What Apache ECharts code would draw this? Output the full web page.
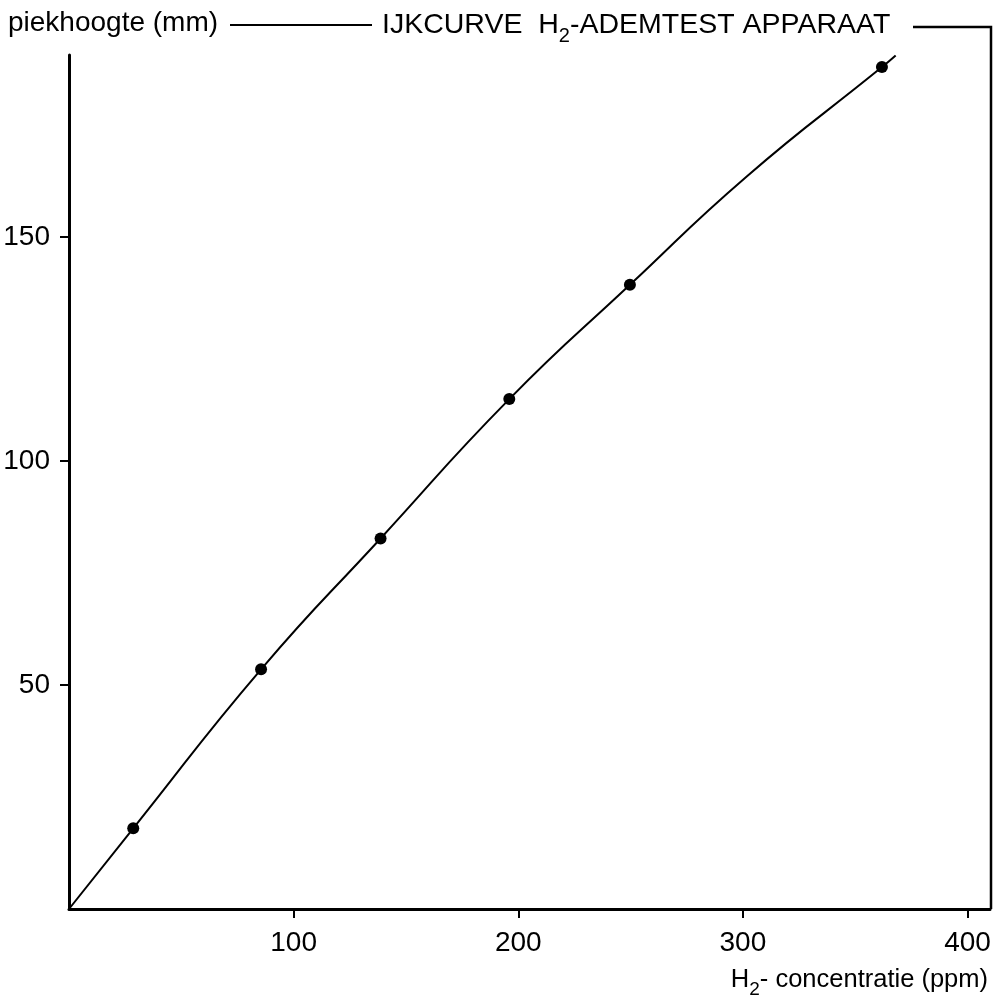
<!DOCTYPE html>
<html>
<head>
<meta charset="utf-8">
<script src="https://cdn.jsdelivr.net/npm/echarts@6/dist/echarts.min.js"></script>
<style>
  html, body { margin: 0; padding: 0; background: #fff; }
  #chart { width: 1003px; height: 1007px; }
</style>
</head>
<body>
<div id="chart"></div>
<script>
// Calibration measurements: H2 concentration (ppm) against peak height (mm)
const concentration = [28.6, 85.5, 138.7, 196.0, 249.7, 361.9];
const peakHeight = [18.0, 53.5, 82.7, 113.8, 139.3, 187.9];
// Calibration curve, starting at the origin and running just past the last point
const curveX = [0, 28.6, 85.5, 138.7, 196.0, 249.7, 301.7, 361.9, 368];
const curveY = [0, 18.0, 53.5, 82.7, 113.8, 139.3, 163.5, 187.9, 190.5];
// Tick positions
const xTicks = [100, 200, 300, 400];
const yTicks = [50, 100, 150];

const FONT = "'Liberation Sans', Arial, Helvetica, sans-serif";
const INK = '#000';

const chart = echarts.init(document.getElementById('chart'), null, { renderer: 'canvas' });

const points = concentration.map((x, i) => [x, peakHeight[i]]);
const curve = curveX.map((x, i) => [x, curveY[i]]);

function subRich(size, subSize, drop) {
  return {
    n: { fontFamily: FONT, fontSize: size, color: INK, padding: [0, 0, 6, 0] },
    s: { fontFamily: FONT, fontSize: subSize, color: INK, padding: [drop, 0, 0, 0] }
  };
}

chart.setOption({
  animation: false,
  backgroundColor: '#fff',
  grid: { left: 69, right: 13, top: 55, bottom: 98 },
  xAxis: {
    type: 'value',
    min: 0, max: 410, interval: 100,
    splitLine: { show: false },
    axisLine: { lineStyle: { color: INK, width: 3 } },
    axisTick: { show: true, length: 9, lineStyle: { color: INK, width: 2 }, customValues: xTicks },
    axisLabel: { fontFamily: FONT, fontSize: 28, color: INK, margin: 20, customValues: xTicks }
  },
  yAxis: {
    type: 'value',
    min: 0, max: 190.6, interval: 50,
    splitLine: { show: false },
    axisLine: { show: true, lineStyle: { color: INK, width: 3 } },
    axisTick: { show: true, length: 9, lineStyle: { color: INK, width: 2 }, customValues: yTicks },
    axisLabel: { fontFamily: FONT, fontSize: 28, color: INK, margin: 19, customValues: yTicks }
  },
  series: [
    {
      type: 'line',
      data: curve,
      smooth: true,
      showSymbol: false,
      lineStyle: { color: INK, width: 2 },
      z: 2
    },
    {
      type: 'scatter',
      data: points,
      symbol: 'circle',
      symbolSize: 12,
      itemStyle: { color: INK, opacity: 1 },
      z: 3
    }
  ],
  graphic: [
    {
      type: 'text', left: 8, top: 9,
      style: { text: 'piekhoogte (mm)', font: '28px ' + FONT, fill: INK }
    },
    {
      type: 'line',
      shape: { x1: 230, y1: 25, x2: 372, y2: 25 },
      style: { stroke: INK, lineWidth: 2 }
    },
    {
      type: 'text', left: 382, top: 11,
      style: {
        text: '{n|IJKCURVE  H}{s|2}{n|-ADEMTEST APPARAAT}',
        rich: subRich(28.5, 20, 15)
      }
    },
    {
      type: 'polyline',
      shape: { points: [[913, 27], [991, 27], [991, 909]] },
      style: { stroke: INK, lineWidth: 2.5, fill: null }
    },
    {
      type: 'text', right: 15, top: 967,
      style: {
        text: '{n|H}{s|2}{n|- concentratie (ppm)}',
        rich: subRich(25.5, 19, 14)
      }
    }
  ]
});
</script>
</body>
</html>
